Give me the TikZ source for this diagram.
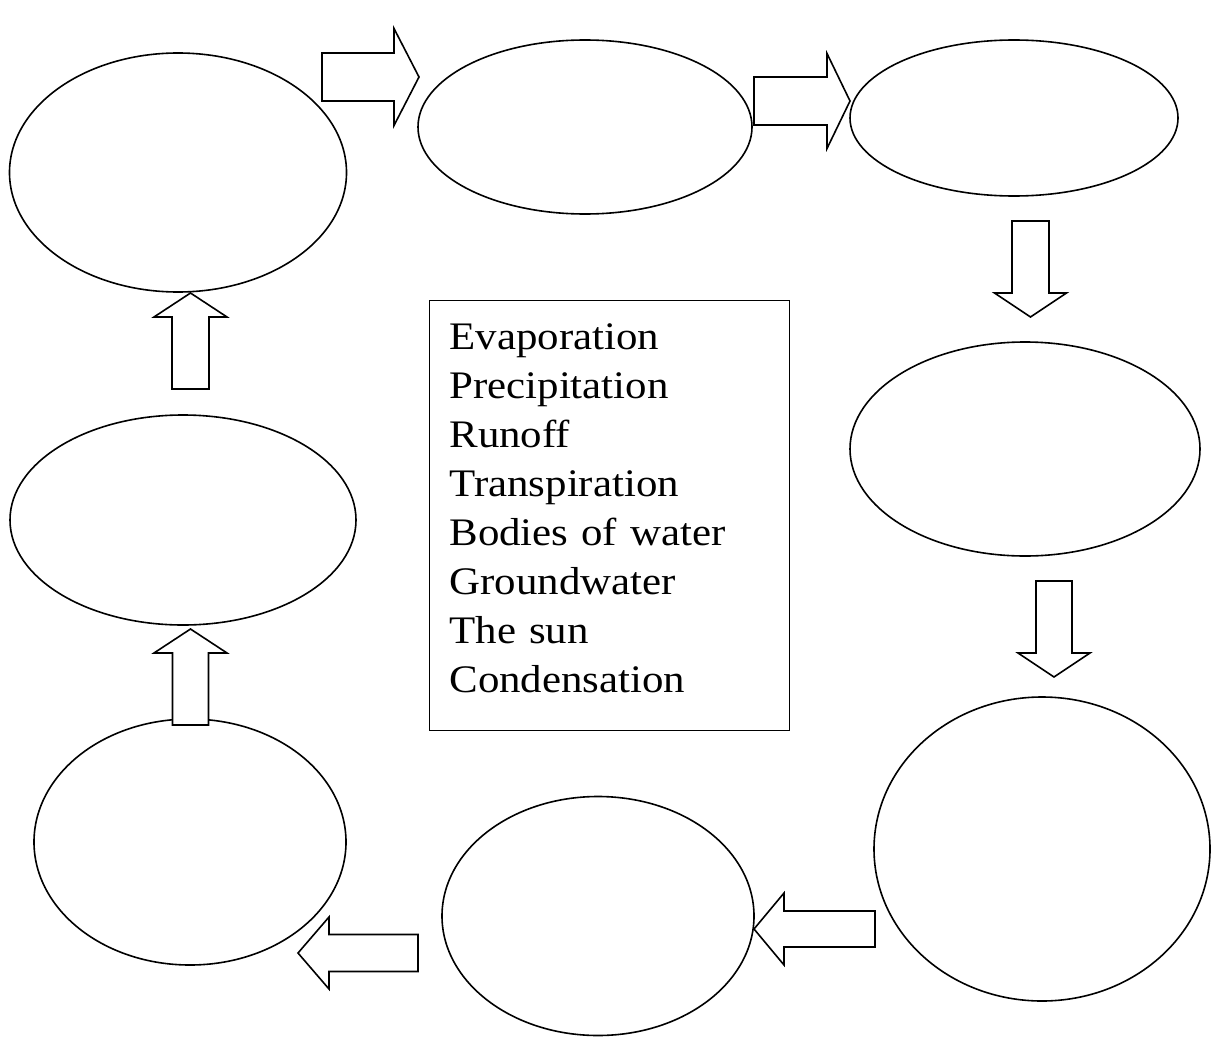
\documentclass[tikz,border=0pt]{standalone}
\usepackage{fontspec}
\setmainfont{Liberation Serif}[FakeStretch=1.1]
\usetikzlibrary{shapes.geometric}

% block arrow: tail point, angle, length, shaft width, head width, head length
\newcommand{\flowarrow}[6]{%
  \draw[blockarrow, shift={(#1)}, rotate=#2]
    (0,-#4/2) -- (#3-#6,-#4/2) -- (#3-#6,-#5/2) -- (#3,0)
    -- (#3-#6,#5/2) -- (#3-#6,#4/2) -- (0,#4/2) -- cycle;}

\begin{document}
\begin{tikzpicture}[
    x=0.5pt, y=-0.5pt,
    stage/.style 2 args={
        ellipse,
        draw,
        line width=0.8pt,
        minimum width=#1*0.5pt,
        minimum height=#2*0.5pt,
        inner sep=0pt
    },
    blockarrow/.style={draw, line width=0.8pt, fill=white, line join=miter},
    wordbank/.style={
        draw,
        line width=0.6pt,
        anchor=north west,
        minimum width=180pt,
        minimum height=215pt,
        inner sep=0pt
    },
    terms/.style={
        anchor=north west,
        inner sep=0pt,
        text width=170pt,
        align=left,
        font=\fontsize{19.5}{24.5}\selectfont
    }
]
\useasboundingbox (0,0) rectangle (1214,1038);

% Blank ellipses round the cycle
\node[stage={337}{239}] (s1) at (178,172.5) {};
\node[stage={334}{174}] (s2) at (585,127) {};
\node[stage={328}{156}] (s3) at (1014,118) {};
\node[stage={350}{214}] (s4) at (1025,449) {};
\node[stage={336}{304}] (s5) at (1042,849) {};
\node[stage={312}{239}] (s6) at (598,916) {};
\node[stage={312}{246}] (s7) at (190,842) {};
\node[stage={346}{210}] (s8) at (183,520) {};

% Word bank
\node[wordbank] (bank) at (429,300) {};
\node[terms] (list) at ([xshift=10pt, yshift=-11.7pt]bank.north west)
    {Evaporation\\ Precipitation\\ Runoff\\ Transpiration\\ Bodies of water\\ Groundwater\\ The sun\\ Condensation};

% Tails of the block arrows
\coordinate (a12) at (322,77);
\coordinate (a23) at (754,101);
\coordinate (a34) at (1030.5,221);
\coordinate (a45) at (1054,581);
\coordinate (a56) at (875,929);
\coordinate (a67) at (418,953);
\coordinate (a78) at (190.5,725);
\coordinate (a81) at (190.5,389);

% Block arrows
\flowarrow{a12}{0}{97}{48}{97}{25}
\flowarrow{a23}{0}{96}{48}{95}{23}
\flowarrow{a34}{-90}{96}{37}{72}{24}
\flowarrow{a45}{-90}{96}{36}{72}{24}
\flowarrow{a56}{180}{121}{36}{72}{30}
\flowarrow{a67}{180}{120}{37}{72}{31}
\flowarrow{a78}{90}{96}{36}{73}{24}
\flowarrow{a81}{90}{96}{37}{73}{24}

\end{tikzpicture}
\end{document}
